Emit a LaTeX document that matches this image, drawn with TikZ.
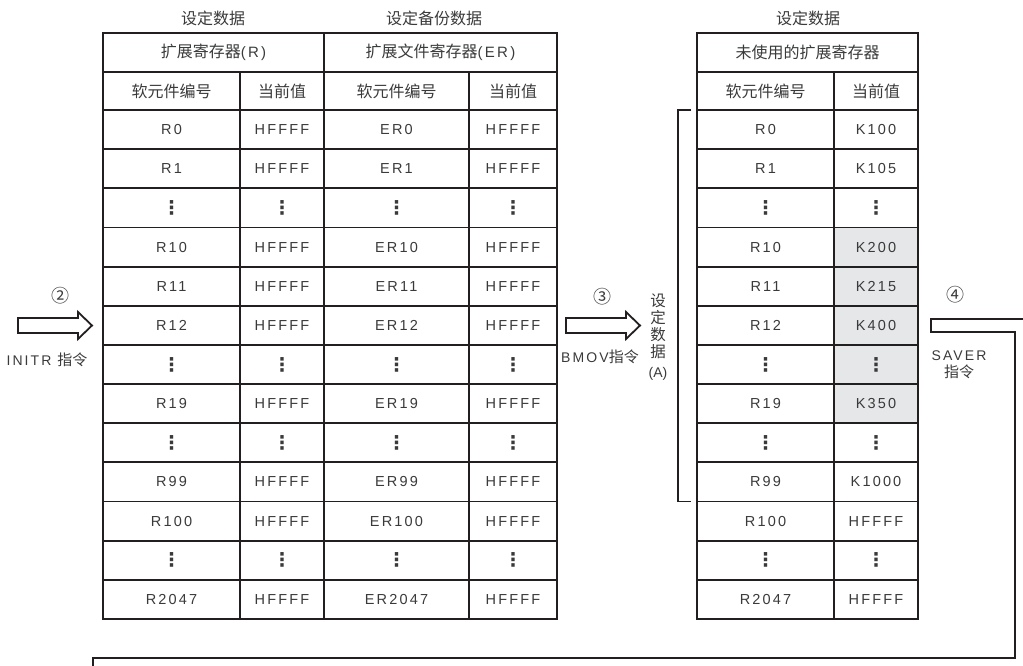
\documentclass[tikz,border=0pt]{standalone}
\usepackage{fontspec}
\setmainfont[LetterSpace=15]{Liberation Sans}
\newfontfamily\cjk{Noto Sans CJK SC}
\newfontfamily\symb{DejaVu Sans}
\usepackage{xcolor}
\definecolor{cLine}{HTML}{231F20}
\definecolor{cText}{HTML}{3A3A3A}
\definecolor{cShade}{HTML}{E6E7E8}
\usepackage{tikz}
\usetikzlibrary{positioning}
\newcommand\vdt{{\symb\bfseries\fontsize{19}{19}\selectfont ⋮}}
\tikzset{
  cell/.style={draw=cLine,line width=1.8pt,inner sep=0pt,outer sep=0pt,
    minimum height=39.15pt,text=cText,font=\fontsize{14.5}{16}\selectfont},
  cell-a/.style={cell,minimum width=137pt},
  cell-b/.style={cell,minimum width=84pt},
  cell-c/.style={cell,minimum width=145pt},
  cell-d/.style={cell,minimum width=88pt},
  cell-plain/.style={},
  cell-shade/.style={fill=cShade},
  head-cell/.style={cell,font=\fontsize{15}{17}\selectfont},
  title/.style={inner sep=0pt,text=cText,font=\cjk\fontsize{16}{18}\selectfont},
  label/.style={inner sep=0pt,text=cText,font=\fontsize{14}{17}\selectfont,align=center},
  num/.style={label,font=\cjk\fontsize{18}{20}\selectfont},
  line-main/.style={draw=cLine,line width=1.8pt},
  fat-arrow/.pic={
    \draw[line-main] (0,-7.5) -- (60,-7.5) -- (60,-13.5) -- (74,0)
      -- (60,13.5) -- (60,7.5) -- (0,7.5) -- cycle;},
}

\begin{document}
\begin{tikzpicture}[x=1pt,y=-1pt]
  \clip (0,0) rectangle (1023,666);
  % titles
  \node[title] (tA) at (213,18) {设定数据};
  \node[title] (tC) at (434,18) {设定备份数据};
  \node[title] (tE) at (808,18) {设定数据};
  % header rows
  \node[head-cell,minimum width=221pt,minimum height=39pt,anchor=north west]
    (hA) at (103,33) {{\cjk\fontsize{16}{18}\selectfont 扩展寄存器}(R)};
  \node[head-cell,minimum width=233pt,minimum height=39pt,right=0pt of hA]
    (hC) {{\cjk\fontsize{16}{18}\selectfont 扩展文件寄存器}(ER)};
  \node[head-cell,minimum width=221pt,minimum height=39pt,anchor=north west]
    (hE) at (697,33) {{\cjk\fontsize{16}{18}\selectfont 未使用的扩展寄存器}};
  \node[head-cell,cell-a,minimum height=38pt,below=0pt of hA.south west,anchor=north west]
    (regA-0) {{\cjk\fontsize{16}{18}\selectfont 软元件编号}};
  \node[head-cell,cell-b,minimum height=38pt,right=0pt of regA-0] (valA-0)
    {{\cjk\fontsize{16}{18}\selectfont 当前值}};
  \node[head-cell,cell-c,minimum height=38pt,right=0pt of valA-0] (regC-0)
    {{\cjk\fontsize{16}{18}\selectfont 软元件编号}};
  \node[head-cell,cell-d,minimum height=38pt,right=0pt of regC-0] (valC-0)
    {{\cjk\fontsize{16}{18}\selectfont 当前值}};
  \node[head-cell,cell-a,minimum height=38pt,below=0pt of hE.south west,anchor=north west]
    (regE-0) {{\cjk\fontsize{16}{18}\selectfont 软元件编号}};
  \node[head-cell,cell-b,minimum height=38pt,right=0pt of regE-0] (valE-0)
    {{\cjk\fontsize{16}{18}\selectfont 当前值}};
  % data rows
  \foreach \reg/\ereg/\val/\uval/\sh [count=\k] in {
    R0/ER0/HFFFF/K100/cell-plain,
    R1/ER1/HFFFF/K105/cell-plain,
    \vdt/\vdt/\vdt/\vdt/cell-plain,
    R10/ER10/HFFFF/K200/cell-shade,
    R11/ER11/HFFFF/K215/cell-shade,
    R12/ER12/HFFFF/K400/cell-shade,
    \vdt/\vdt/\vdt/\vdt/cell-shade,
    R19/ER19/HFFFF/K350/cell-shade,
    \vdt/\vdt/\vdt/\vdt/cell-plain,
    R99/ER99/HFFFF/K1000/cell-plain,
    R100/ER100/HFFFF/HFFFF/cell-plain,
    \vdt/\vdt/\vdt/\vdt/cell-plain,
    R2047/ER2047/HFFFF/HFFFF/cell-plain}{
    \pgfmathtruncatemacro\prev{\k-1}
    \node[cell-a,below=0pt of regA-\prev] (regA-\k) {\reg};
    \node[cell-b,right=0pt of regA-\k] (valA-\k) {\val};
    \node[cell-c,right=0pt of valA-\k] (regC-\k) {\ereg};
    \node[cell-d,right=0pt of regC-\k] (valC-\k) {\val};
    \node[cell-a,below=0pt of regE-\prev] (regE-\k) {\reg};
    \node[cell-b,\sh,right=0pt of regE-\k] (valE-\k) {\uval};
  }
  % bracket of the set data (A)
  \draw[line-main] ([xshift=-6pt]regE-1.north west) -| ([xshift=-19pt]regE-10.south west)
    -- ([xshift=-6pt]regE-10.south west);
  \node[label,font=\cjk\fontsize{15.5}{17}\selectfont] (dataA) at (658,337)
    {设\\定\\数\\据\\[3pt]{\fontspec{Liberation Sans}\fontsize{14}{17}\selectfont(A)}};
  % step 2
  \pic at (18,325.5) {fat-arrow};
  \node[num] (numB) at (60,296) {②};
  \node[label] (cmdB) at (47,360) {INITR {\cjk\fontsize{15}{17}\selectfont 指令}};
  % step 3
  \pic at (566,325.5) {fat-arrow};
  \node[num] (numC) at (602,297) {③};
  \node[label] (cmdC) at (600,357) {BMOV{\cjk\fontsize{15}{17}\selectfont 指令}};
  % step 4
  \node[num] (numD) at (955,295) {④};
  \node[label] (cmdD) at (959,365) {SAVER\\{\cjk\fontsize{15}{17}\selectfont 指令}};
  \draw[line-main] (1030,319) -- (931,319) -- (931,332) -- (1015,332)
    -- (1015,658) -- (93,658) -- (93,680);
\end{tikzpicture}
\end{document}
